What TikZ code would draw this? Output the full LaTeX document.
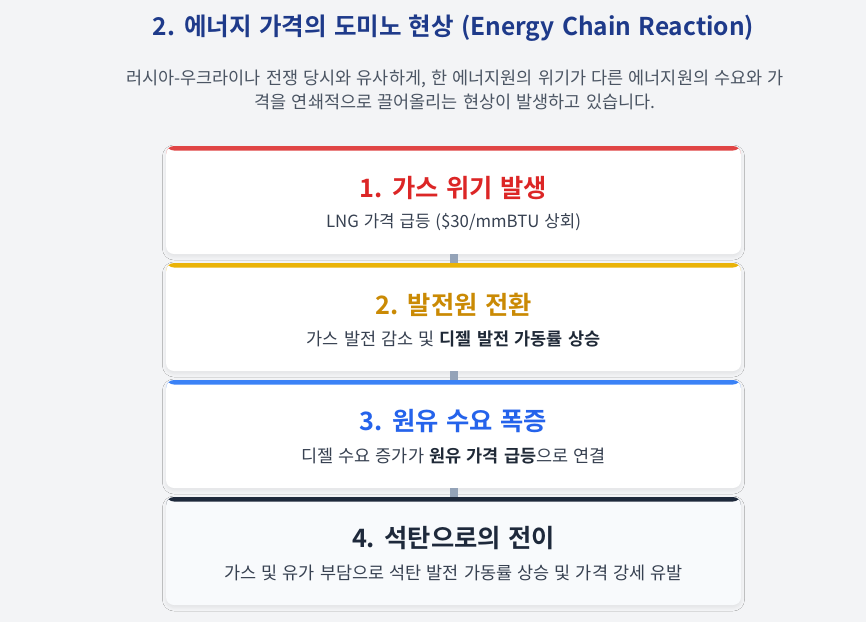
\documentclass[tikz,border=0pt]{standalone}
\usepackage{fontspec}
\setmainfont{Noto Sans CJK KR}[BoldFont={Noto Sans CJK KR Bold}, WordSpace=1.3]
\usetikzlibrary{shadows.blur}
\definecolor{bg}{HTML}{F3F4F6}
\definecolor{titleblue}{HTML}{1E3A8A}
\definecolor{subgray}{HTML}{4B5563}
\definecolor{bodygray}{HTML}{374151}
\definecolor{strongtxt}{HTML}{1F2937}
\definecolor{cred}{HTML}{E04545}
\definecolor{tred}{HTML}{DC2626}
\definecolor{cyel}{HTML}{EAB308}
\definecolor{tyel}{HTML}{CA8A04}
\definecolor{cblue}{HTML}{3B82F6}
\definecolor{tblue}{HTML}{2563EB}
\definecolor{cdark}{HTML}{1E293B}
\definecolor{card4bg}{HTML}{F8FAFC}
\definecolor{connc}{HTML}{94A3B8}
\tikzset{
  card/.style={rectangle, rounded corners=8pt, minimum width=575pt, minimum height=108pt,
    inner sep=0pt, fill=white,
    blur shadow={shadow xshift=0pt, shadow yshift=-2.5pt, shadow opacity=7, shadow blur radius=3.5pt},
    path picture={\fill[#1] (path picture bounding box.north west) rectangle ([yshift=-4.5pt]path picture bounding box.north east);}},
  ctitle/.style={font=\fontsize{25.3}{30}\selectfont\bfseries, inner sep=0pt},
  csub/.style={font=\fontsize{17.5}{21}\selectfont, text=bodygray, inner sep=0pt},
  conn/.style={draw=connc, line width=8pt}
}
\begin{document}
\begin{tikzpicture}[x=1pt,y=-1pt]
\fill[bg] (0,0) rectangle (866,622);
\useasboundingbox (0,0) rectangle (866,622);
\node[font=\fontsize{24.5}{30}\selectfont\bfseries, text=titleblue, inner sep=0pt] (title) at (453.5,28) {2. 에너지 가격의 도미노 현상 (Energy Chain Reaction)};
\node[align=center, font=\fontsize{17.5}{24}\selectfont, text=subgray, inner sep=0pt] (sub) at (455,90) {러시아-우크라이나 전쟁 당시와 유사하게, 한 에너지원의 위기가 다른 에너지원의 수요와 가\\격을 연쇄적으로 끌어올리는 현상이 발생하고 있습니다.};

\node[card=cred] (c1) at (453.5,200) {};
\node[card=cyel] (c2) at (453.5,317) {};
\node[card=cblue] (c3) at (453.5,434) {};
\node[card=cdark, fill=card4bg] (c4) at (453.5,551) {};

\node[ctitle, text=tred] (t1) at (453.5,188) {1. 가스 위기 발생};
\node[csub, font=\fontsize{16.8}{21}\selectfont] (s1) at (453.5,222) {LNG 가격 급등 (\$30/mmBTU 상회)};
\node[ctitle, text=tyel] (t2) at (453.5,305) {2. 발전원 전환};
\node[csub] (s2) at (453.5,339) {가스 발전 감소 및 \textcolor{strongtxt}{\bfseries 디젤 발전 가동률 상승}};
\node[ctitle, text=tblue] (t3) at (453.5,421) {3. 원유 수요 폭증};
\node[csub] (s3) at (453.5,456) {디젤 수요 증가가 \textcolor{strongtxt}{\bfseries 원유 가격 급등}으로 연결};
\node[ctitle, text=cdark] (t4) at (453.5,538) {4. 석탄으로의 전이};
\node[csub] (s4) at (453.5,573) {가스 및 유가 부담으로 석탄 발전 가동률 상승 및 가격 강세 유발};

\draw[conn] (c1.south) -- (c2.north);
\draw[conn] (c2.south) -- (c3.north);
\draw[conn] (c3.south) -- (c4.north);
\end{tikzpicture}
\end{document}
